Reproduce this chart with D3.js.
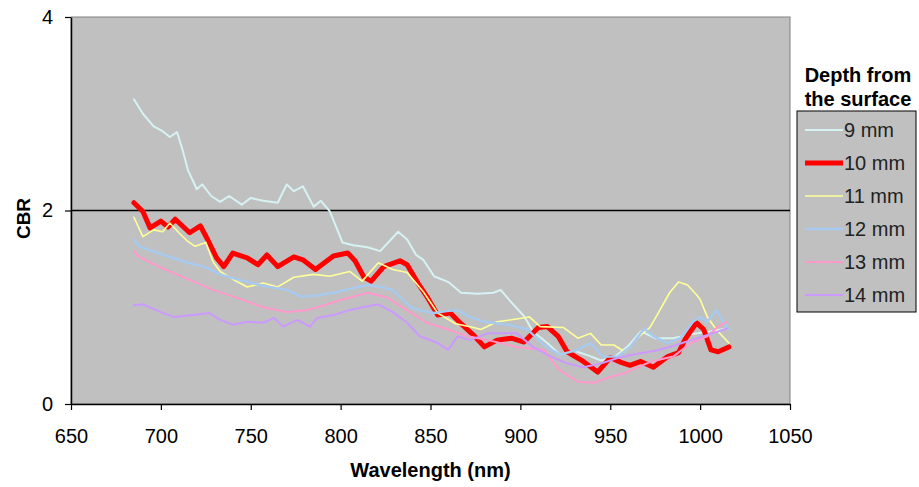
<!DOCTYPE html>
<html>
<head>
<meta charset="utf-8">
<script src="https://cdn.jsdelivr.net/npm/d3@7"></script>
<style>
  body { margin: 0; background: #fff; }
  svg { display: block; font-family: "Liberation Sans", Arial, sans-serif; }
  .tick text { font-size: 20px; fill: #000; }
</style>
</head>
<body>
<svg id="chart" width="919" height="487"></svg>
<script>
// values, [wavelength nm, CBR]
var depth9 = [[685,3.15],[690,3.0],[696,2.87],[701,2.82],[705,2.76],[709,2.81],[712,2.63],[715,2.42],[720,2.22],[723,2.27],[728,2.15],[733,2.09],[738,2.15],[745,2.06],[750,2.13],[757,2.10],[765,2.08],[770,2.27],[774,2.2],[779,2.25],[785,2.04],[789,2.10],[794,1.99],[801,1.67],[807,1.64],[815,1.62],[822,1.58],[827,1.68],[832,1.78],[837,1.70],[842,1.54],[846,1.49],[852,1.32],[860,1.26],[867,1.15],[876,1.14],[885,1.15],[889,1.18],[895,1.05],[902,0.91],[907,0.75],[915,0.63],[922,0.51],[930,0.55],[938,0.5],[945,0.45],[952,0.48],[960,0.6],[967,0.75],[975,0.68],[985,0.68],[995,0.72],[1005,0.75],[1015,0.78]];
var depth10 = [[685,2.08],[690,1.99],[694,1.82],[700,1.89],[704,1.83],[708,1.91],[712,1.84],[716,1.77],[722,1.84],[726,1.70],[731,1.51],[735,1.42],[740,1.56],[748,1.51],[754,1.44],[759,1.54],[765,1.42],[774,1.52],[779,1.49],[786,1.39],[791,1.46],[796,1.53],[804,1.56],[808,1.48],[813,1.31],[817,1.27],[824,1.42],[833,1.48],[837,1.44],[843,1.25],[848,1.11],[854,0.92],[861,0.94],[867,0.83],[874,0.71],[880,0.59],[887,0.66],[895,0.68],[902,0.64],[910,0.79],[915,0.80],[921,0.70],[926,0.54],[935,0.44],[943,0.33],[950,0.48],[956,0.43],[961,0.40],[967,0.44],[974,0.38],[982,0.49],[988,0.53],[992,0.68],[998,0.84],[1002,0.77],[1006,0.56],[1010,0.54],[1016,0.59]];
var depth11 = [[685,1.93],[690,1.73],[696,1.80],[701,1.78],[705,1.87],[710,1.77],[715,1.68],[719,1.63],[725,1.67],[729,1.47],[733,1.37],[740,1.29],[748,1.21],[757,1.25],[765,1.21],[774,1.31],[785,1.34],[794,1.32],[805,1.37],[812,1.27],[821,1.46],[829,1.39],[837,1.36],[846,1.16],[854,0.94],[864,0.83],[874,0.79],[878,0.77],[887,0.85],[895,0.87],[905,0.90],[911,0.80],[924,0.79],[932,0.68],[939,0.73],[945,0.61],[952,0.61],[958,0.54],[965,0.68],[972,0.79],[977,0.95],[983,1.15],[988,1.26],[993,1.23],[998,1.13],[1000,1.08],[1004,0.90],[1009,0.77],[1016,0.63]];
var depth12 = [[685,1.70],[688,1.63],[697,1.57],[705,1.52],[715,1.46],[724,1.42],[733,1.34],[742,1.29],[751,1.25],[760,1.21],[770,1.18],[778,1.11],[786,1.12],[796,1.15],[805,1.19],[815,1.23],[822,1.21],[829,1.18],[839,1.0],[846,0.96],[852,0.94],[859,0.96],[865,0.97],[872,0.90],[880,0.85],[893,0.82],[904,0.77],[913,0.61],[922,0.51],[932,0.56],[939,0.63],[946,0.49],[954,0.49],[961,0.59],[969,0.78],[974,0.70],[982,0.63],[989,0.68],[996,0.85],[1000,0.90],[1004,0.85],[1009,0.97],[1013,0.85],[1016,0.77]];
var depth13 = [[685,1.58],[688,1.52],[700,1.41],[715,1.29],[729,1.18],[742,1.10],[757,1.00],[770,0.95],[781,0.97],[787,1.00],[801,1.08],[815,1.15],[826,1.10],[837,0.97],[848,0.84],[860,0.77],[871,0.70],[882,0.66],[898,0.59],[913,0.56],[922,0.35],[932,0.23],[941,0.22],[950,0.28],[958,0.32],[973,0.44],[985,0.49],[995,0.63],[1004,0.70],[1010,0.80],[1015,0.85]];
var depth14 = [[685,1.02],[690,1.03],[700,0.95],[707,0.90],[718,0.92],[727,0.94],[733,0.87],[740,0.82],[748,0.85],[757,0.84],[763,0.89],[768,0.80],[776,0.87],[783,0.80],[787,0.89],[796,0.92],[805,0.97],[812,1.0],[821,1.03],[829,0.95],[837,0.84],[844,0.70],[854,0.63],[860,0.56],[865,0.70],[872,0.66],[882,0.73],[898,0.73],[907,0.59],[917,0.49],[926,0.42],[935,0.38],[945,0.42],[955,0.48],[965,0.52],[975,0.55],[985,0.6],[995,0.66],[1005,0.72],[1015,0.78]];

var seriesNames = ["9 mm", "10 mm", "11 mm", "12 mm", "13 mm", "14 mm"];
var seriesData = [depth9, depth10, depth11, depth12, depth13, depth14];
var xTicks = [650, 700, 750, 800, 850, 900, 950, 1000, 1050];
var yTicks = [0, 2, 4];

var colors = ["#d6f2f2", "#ff0000", "#ffff99", "#a6caf0", "#ff99cc", "#cc99ff"];
var widths = [2, 5, 1.6, 2.4, 2, 2];

var svg = d3.select("#chart"),
    margin = {top: 17, right: 129, bottom: 83, left: 71},
    width = +svg.attr("width") - margin.left - margin.right,
    height = +svg.attr("height") - margin.top - margin.bottom,
    g = svg.append("g").attr("transform", "translate(" + margin.left + "," + margin.top + ")");

var x = d3.scaleLinear().domain([650, 1050]).range([0, width]),
    y = d3.scaleLinear().domain([0, 4]).range([height, 0]);

// plot area
g.append("rect")
    .attr("width", width)
    .attr("height", height)
    .attr("fill", "#c0c0c0")
    .attr("stroke", "#808080")
    .attr("stroke-width", 1);

// gridline at 2
g.append("line")
    .attr("x1", 0).attr("x2", width)
    .attr("y1", y(2)).attr("y2", y(2))
    .attr("stroke", "#000").attr("stroke-width", 1.5);

var line = d3.line()
    .x(function(d) { return x(d[0]); })
    .y(function(d) { return y(d[1]); });

seriesData.forEach(function(s, i) {
  g.append("path")
      .datum(s)
      .attr("d", line)
      .attr("fill", "none")
      .attr("stroke", colors[i])
      .attr("stroke-width", widths[i])
      .attr("stroke-linejoin", "round")
      .attr("stroke-linecap", "round");
});

// axes
g.append("g")
    .attr("transform", "translate(0," + height + ")")
    .call(d3.axisBottom(x).tickValues(xTicks).tickSize(6).tickSizeOuter(0).tickPadding(19).tickFormat(d3.format("d")))
    .call(function(a) { a.select(".domain").attr("stroke-width", 1.5); a.selectAll(".tick line").attr("stroke-width", 1.2); });

g.append("g")
    .call(d3.axisLeft(y).tickValues(yTicks).tickSize(6).tickSizeOuter(0).tickPadding(12).tickFormat(d3.format("d")))
    .call(function(a) { a.select(".domain").attr("stroke-width", 1.5); a.selectAll(".tick line").attr("stroke-width", 1.2); });

// axis titles
svg.append("text")
    .attr("x", margin.left + width / 2)
    .attr("y", 477)
    .attr("text-anchor", "middle")
    .style("font-size", "20px")
    .style("font-weight", "bold")
    .text("Wavelength (nm)");

svg.append("text")
    .attr("transform", "translate(30," + (margin.top + y(2) + 8) + ") rotate(-90)")
    .attr("text-anchor", "middle")
    .style("font-size", "19px")
    .style("font-weight", "bold")
    .text("CBR");

// legend
var legend = svg.append("g").attr("transform", "translate(797,111)");
svg.append("text")
    .attr("x", 858).attr("y", 82)
    .attr("text-anchor", "middle")
    .style("font-size", "20px").style("font-weight", "bold")
    .text("Depth from");
svg.append("text")
    .attr("x", 858).attr("y", 106)
    .attr("text-anchor", "middle")
    .style("font-size", "20px").style("font-weight", "bold")
    .text("the surface");

legend.append("rect")
    .attr("width", 119).attr("height", 201)
    .attr("fill", "#c0c0c0")
    .attr("stroke", "#000").attr("stroke-width", 1);

var item = legend.selectAll(".item")
    .data(seriesNames)
    .enter().append("g")
      .attr("class", "item")
      .attr("transform", function(d, i) { return "translate(0," + (19 + i * 33) + ")"; });

item.append("line")
    .attr("x1", 8).attr("x2", 46)
    .attr("stroke", function(d, i) { return colors[i]; })
    .attr("stroke-width", function(d, i) { return widths[i]; });

item.append("text")
    .attr("x", 47)
    .attr("dy", "0.35em")
    .style("font-size", "20px")
    .style("fill", "#222")
    .text(function(d) { return d; });
</script>
</body>
</html>
